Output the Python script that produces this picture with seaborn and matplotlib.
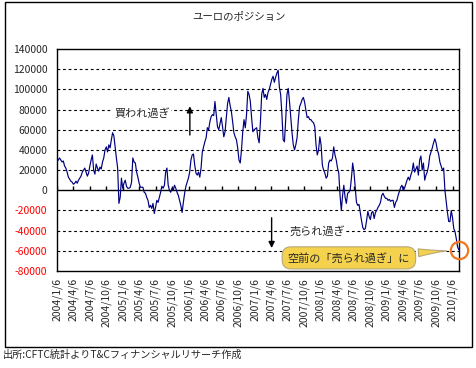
import pandas as pd
import numpy as np
import matplotlib
matplotlib.use('Agg')
import matplotlib.pyplot as plt
from matplotlib.patches import Rectangle
import seaborn as sns

# weekly euro net position (CFTC), first week 2004/1/6
pos_2004 = [28000, 30000, 32000, 30000, 28000, 29000, 24000, 22000, 18000, 13000,
            11000, 9000, 8000, 6000, 7000, 9000, 7000, 10000, 12000, 14000,
            18000, 20000, 22000, 18000, 14000, 17000, 24000, 30000, 35000, 20000,
            16000, 26000, 22000, 19000, 23000, 21000, 28000, 32000, 40000, 43000,
            38000, 45000, 42000, 50000, 57000, 54000, 43000, 32000, 22000, -13000,
            -7000, 12000]
pos_2005 = [2000, 7000, 10000, 4000, 2000, 2000, 3000, 8000, 32000, 28000,
            27000, 18000, 13000, 7000, 3000, 3000, 3000, -2000, -3000, -7000,
            -10000, -17000, -15000, -18000, -13000, -23000, -17000, -10000, -12000, -7000,
            -2000, 4000, 2000, 5000, 18000, 22000, 5000, 0, -2000, 2000,
            0, 5000, 2000, -2000, -5000, -10000, -15000, -22000, -12000, -3000,
            4000, 8000]
pos_2006 = [12000, 18000, 30000, 35000, 36000, 25000, 17000, 15000, 18000, 13000,
            22000, 38000, 43000, 48000, 52000, 62000, 60000, 68000, 73000, 75000,
            74000, 88000, 76000, 63000, 60000, 66000, 72000, 63000, 53000, 58000,
            72000, 86000, 92000, 84000, 78000, 68000, 57000, 53000, 50000, 42000,
            30000, 27000, 40000, 58000, 70000, 62000, 75000, 98000, 95000, 88000,
            72000, 58000]
pos_2007 = [60000, 61000, 62000, 52000, 47000, 68000, 95000, 101000, 92000, 95000,
            90000, 97000, 100000, 105000, 110000, 113000, 107000, 112000, 116000, 119000,
            102000, 95000, 75000, 50000, 48000, 70000, 95000, 101000, 88000, 72000,
            57000, 45000, 40000, 45000, 52000, 70000, 83000, 86000, 90000, 92000,
            87000, 79000, 72000, 73000, 70000, 70000, 68000, 67000, 63000, 45000,
            35000, 40000]
pos_2008 = [53000, 45000, 25000, 20000, 17000, 12000, 14000, 27000, 30000, 29000,
            32000, 43000, 35000, 30000, 22000, 17000, -5000, -20000, -5000, 5000,
            -7000, -13000, -3000, -2000, 0, 12000, 27000, 18000, 3000, -12000,
            -15000, -14000, -22000, -30000, -37000, -39000, -38000, -30000, -21000, -26000,
            -29000, -22000, -21000, -28000, -22000, -20000, -17000, -15000, -12000, -5000,
            -3000, -6000]
pos_2009 = [-8000, -8000, -10000, -9000, -11000, -10000, -10000, -17000, -12000, -10000,
            -5000, -1000, 3000, 5000, 0, 2000, 6000, 10000, 13000, 10000,
            15000, 19000, 27000, 18000, 21000, 24000, 15000, 30000, 34000, 20000,
            27000, 10000, 15000, 18000, 24000, 34000, 38000, 42000, 47000, 51000,
            47000, 40000, 36000, 28000, 24000, 20000, 22000, 0, -11000, -22000,
            -31000, -31000]
pos_2010 = [-20000, -27000, -38000, -41000, -48000, -56000, -59000]

y_ticks = [-80000, -60000, -40000, -20000, 0, 20000, 40000, 60000,
           80000, 100000, 120000, 140000]
x_labels = ['2004/1/6', '2004/4/6', '2004/7/6', '2004/10/6',
            '2005/1/6', '2005/4/6', '2005/7/6', '2005/10/6',
            '2006/1/6', '2006/4/6', '2006/7/6', '2006/10/6',
            '2007/1/6', '2007/4/6', '2007/7/6', '2007/10/6',
            '2008/1/6', '2008/4/6', '2008/7/6', '2008/10/6',
            '2009/1/6', '2009/4/6', '2009/7/6', '2009/10/6',
            '2010/1/6']

position = pos_2004 + pos_2005 + pos_2006 + pos_2007 + pos_2008 + pos_2009 + pos_2010
dates = pd.date_range('2004-01-06', periods=len(position), freq='7D')
df = pd.DataFrame({'date': dates, 'position': position})
tick_dates = pd.to_datetime(x_labels, format='%Y/%m/%d')

sns.set_style('white')
plt.rcParams['font.family'] = ['Noto Sans CJK JP', 'DejaVu Sans']
plt.rcParams['axes.unicode_minus'] = False

fig = plt.figure(figsize=(4.77, 3.68), dpi=100)
ax = fig.add_axes([57 / 477, 1 - 271 / 368, (459 - 57) / 477, (271 - 49) / 368])

sns.lineplot(data=df, x='date', y='position', color='#000080', lw=0.85, ax=ax, zorder=3)

ax.set_xlim(dates[0], dates[-1] + pd.Timedelta(days=1))
ax.set_ylim(-80000, 140000)
ax.set_xlabel('')
ax.set_ylabel('')

# dashed grid, solid zero line with small upward ticks
for v in y_ticks[1:-1]:
    if v != 0:
        ax.axhline(v, color='black', lw=0.8, ls=(0, (2.5, 2.5)), zorder=1)
ax.axhline(0, color='black', lw=1, zorder=2)
ax.plot(tick_dates, np.zeros(len(tick_dates)), ls='none', marker=2, ms=3,
        mew=1, color='black', zorder=2)

ax.set_yticks(y_ticks)
ax.set_yticklabels([str(v) for v in y_ticks], fontsize=7.5)
for lab, v in zip(ax.get_yticklabels(), y_ticks):
    if v < 0:
        lab.set_color('#FF0000')
ax.set_xticks(tick_dates)
ax.set_xticklabels(x_labels, rotation=90, fontsize=7.5)
ax.tick_params(axis='both', length=0)
ax.tick_params(axis='y', pad=7)
ax.tick_params(axis='x', pad=5)
for s in ax.spines.values():
    s.set_visible(True)
    s.set_color('black')
    s.set_linewidth(1)

# annotations
ax.text(pd.Timestamp('2005-04-20'), 76500, '買われ過ぎ', fontsize=8, ha='center', va='center',
        bbox=dict(fc='white', ec='none', pad=1), zorder=2)
ax.annotate('', xy=(pd.Timestamp('2006-01-11'), 86000), xytext=(pd.Timestamp('2006-01-11'), 52000),
            arrowprops=dict(arrowstyle='-|>', color='black', lw=1, mutation_scale=9), zorder=4)
ax.text(pd.Timestamp('2007-12-16'), -40300, '売られ過ぎ', fontsize=8, ha='center', va='center',
        bbox=dict(fc='white', ec='none', pad=1), zorder=2)
ax.annotate('', xy=(pd.Timestamp('2007-04-09'), -60000), xytext=(pd.Timestamp('2007-04-09'), -24500),
            arrowprops=dict(arrowstyle='-|>', color='black', lw=1, mutation_scale=9), zorder=4)

ax.annotate('空前の「売られ過ぎ」に', xy=(dates[-1], position[-1]),
            xytext=(pd.Timestamp('2008-06-10'), -67000), fontsize=8, ha='center', va='center',
            bbox=dict(boxstyle='round,pad=0.5,rounding_size=0.8', fc='#F4D24E', ec='#B8A878', lw=0.8),
            arrowprops=dict(arrowstyle='wedge,tail_width=0.7,shrink_factor=0.4', fc='#F4D24E',
                            ec='#B8A878', lw=0.8, shrinkB=9),
            zorder=5)
ax.plot([dates[-1]], [position[-1]], ls='none', marker='o', ms=12.5, mfc='none',
        mec='#F07820', mew=1.6, clip_on=False, zorder=6)

fig.text(0.5, 1 - 17 / 368, 'ユーロのポジション', ha='center', va='center', fontsize=7.5)
fig.text(3 / 477, 1 - 355 / 368, '出所:CFTC統計よりT&Cフィナンシャルリサーチ作成',
         ha='left', va='center', fontsize=7.3)
fig.patches.append(Rectangle((5 / 477, 1 - 347 / 368), 467 / 477, 345 / 368,
                             transform=fig.transFigure, fill=False, ec='black', lw=1))

fig.savefig('out.png', dpi=100)
